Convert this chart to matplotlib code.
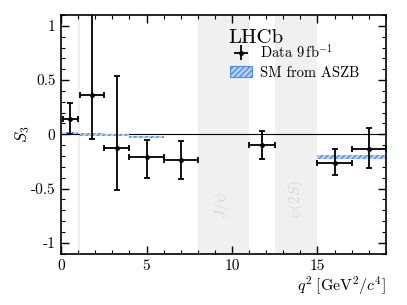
import matplotlib

matplotlib.use("Agg")
import matplotlib.pyplot as plt
import numpy as np
from matplotlib.patches import Patch
from matplotlib.ticker import MultipleLocator

plt.rcParams["font.family"] = "serif"
plt.rcParams["font.serif"] = ["cmr10", "DejaVu Serif"]
plt.rcParams["mathtext.fontset"] = "cm"
plt.rcParams["axes.unicode_minus"] = False
plt.rcParams["axes.formatter.use_mathtext"] = True

# data points: bin edges, central value, error bounds
bin_lo = [0.1, 1.1, 2.5, 4.0, 6.0, 11.0, 15.0, 17.0]
bin_hi = [0.98, 2.5, 4.0, 6.0, 8.0, 12.5, 17.0, 19.0]
s3 = [0.14, 0.365, -0.123, -0.206, -0.24, -0.10, -0.261, -0.135]
s3_up = [0.293, 1.2, 0.542, -0.052, -0.058, 0.028, -0.138, 0.062]
s3_dn = [0.0, -0.043, -0.51, -0.40, -0.415, -0.23, -0.375, -0.307]

# SM prediction (ASZB)
sm_lo = [0.1, 1.1, 2.5, 4.0, 15.0]
sm_hi = [0.98, 2.5, 4.0, 6.0, 19.0]
sm_val = [0.01, 0.0, -0.007, -0.024, -0.21]
sm_hw = [0.011, 0.011, 0.011, 0.013, 0.016]

lo = np.array(bin_lo)
hi = np.array(bin_hi)
xc = 0.5 * (lo + hi)
y = np.array(s3)

fig = plt.figure(figsize=(4.07, 3.05), dpi=100)
ax = fig.add_axes([0.150, 0.168, 0.798, 0.783])

# vetoed regions
band_col = "#f0f0f0"
ax.axvspan(0.98, 1.1, color=band_col, lw=0, zorder=0)
ax.axvspan(8.0, 11.0, color=band_col, lw=0, zorder=0)
ax.axvspan(12.5, 15.0, color=band_col, lw=0, zorder=0)
ax.text(9.4, -0.78, r"$J/\psi$", rotation=90, color="#d6d6d6",
        fontsize=11, ha="center", va="bottom")
ax.text(13.76, -0.78, r"$\psi(2S)$", rotation=90, color="#d6d6d6",
        fontsize=11, ha="center", va="bottom")

ax.axhline(0, color="black", lw=0.8, zorder=1)

sm_face, sm_edge = "#b8d3f5", "#4a8de3"
for l, h, v, w in zip(sm_lo, sm_hi, sm_val, sm_hw):
    ax.fill_between([l, h], v - w, v + w, facecolor=sm_face,
                    edgecolor=sm_edge, hatch="//////", lw=0.0, zorder=2)

ax.errorbar(xc, y, xerr=[xc - lo, hi - xc], yerr=[y - np.array(s3_dn), np.array(s3_up) - y],
            fmt="o", ms=2.5, color="black", ecolor="black", elinewidth=1.3,
            capsize=2.5, capthick=1.3, zorder=3)

ax.set_xlim(0, 19)
ax.set_ylim(-1.1, 1.1)
ax.xaxis.set_major_locator(MultipleLocator(5))
ax.xaxis.set_minor_locator(MultipleLocator(1))
ax.yaxis.set_major_locator(MultipleLocator(0.5))
ax.yaxis.set_minor_locator(MultipleLocator(0.1))
ax.set_yticks([-1, -0.5, 0, 0.5, 1])
ax.set_yticklabels(["-1", "-0.5", "0", "0.5", "1"])
ax.set_xticks([0, 5, 10, 15])
ax.set_xticklabels(["0", "5", "10", "15"])
ax.tick_params(which="both", direction="in", top=True, right=True, labelsize=11)
ax.tick_params(which="major", length=6, width=1.0, pad=4)
ax.tick_params(which="minor", length=3, width=0.8)
for s in ax.spines.values():
    s.set_linewidth(1.2)

ax.set_ylabel(r"$S_3$", fontsize=12)
ax.yaxis.set_label_coords(-0.09, 0.5)
ax.set_xlabel(r"$q^2\;[\mathrm{GeV}^2/c^4]$", fontsize=11.5, loc="right",
              labelpad=1)

ax.text(0.515, 0.905, "LHCb", transform=ax.transAxes, fontsize=15,
        ha="left", va="center")
data_h = ax.errorbar([], [], xerr=[], yerr=[], fmt="o", ms=2.5, color="black",
                     elinewidth=1.3)
sm_h = Patch(facecolor=sm_face, edgecolor=sm_edge, hatch="//////", lw=0.8)
ax.legend([data_h, sm_h], [r"Data $9\,\mathrm{fb}^{-1}$", "SM from ASZB"],
          loc="upper left", bbox_to_anchor=(0.49, 0.925), frameon=False,
          fontsize=10.5, handlelength=1.45, handleheight=0.8, handletextpad=0.55,
          borderpad=0.2, labelspacing=0.35)

fig.savefig("out.png", dpi=100)
